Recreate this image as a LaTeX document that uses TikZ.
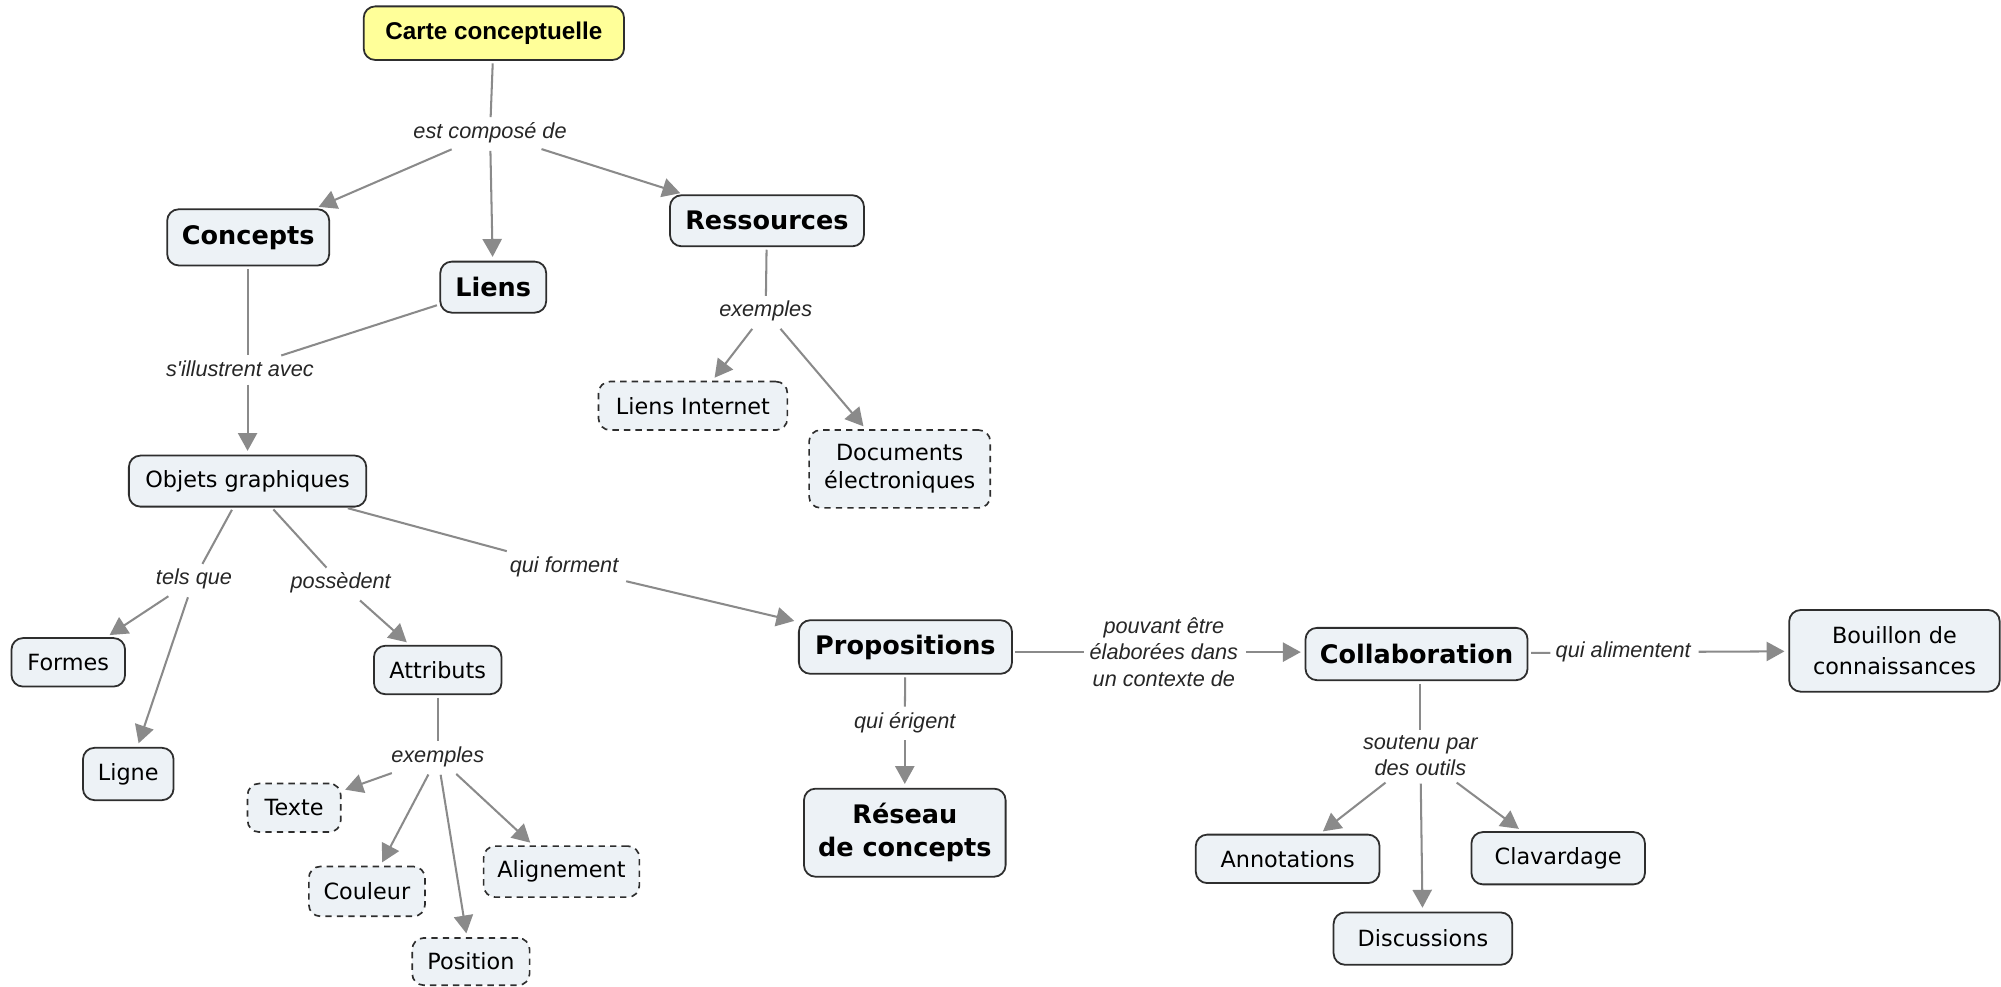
\documentclass[tikz,border=0pt]{standalone}
\usepackage{fontspec}
\setmainfont{DejaVu Sans}
\newfontfamily\labfont{Liberation Sans}
\usetikzlibrary{arrows.meta}
\definecolor{nodefill}{HTML}{EDF2F6}
\definecolor{edgecol}{HTML}{8A8A8A}
\definecolor{bordercol}{HTML}{2E2E2E}
\definecolor{yel}{HTML}{FFFF99}
\begin{document}
\begin{tikzpicture}[x=1pt,y=-1pt,
  cbox/.style={draw=bordercol, fill=nodefill, rounded corners=9pt, line width=1.4pt, align=center, inner sep=0pt, text=black},
  cbold/.style={cbox, font=\fontsize{20}{26}\selectfont\bfseries},
  creg/.style={cbox, font=\fontsize{17.5}{22}\selectfont},
  cdash/.style={creg, dash pattern=on 5pt off 4pt, line width=1.3pt},
  lnk/.style={font=\labfont\itshape\fontsize{17}{20.5}\selectfont, text=black!85, inner sep=4pt, align=center},
  ln/.style={draw=edgecol, line width=1.6pt, shorten <=2pt},
  ar/.style={ln, -{Triangle[length=14pt,width=15pt]}, shorten >=3pt},
]
\useasboundingbox (0,0) rectangle (1568,773);

% concept nodes
\node[cbox, fill=yel, font=\labfont\bfseries\fontsize{19}{23}\selectfont, minimum width=204pt, minimum height=42pt] (carte) at (387,26) {Carte conceptuelle};
\node[cbold, minimum width=127pt, minimum height=44pt] (concepts) at (194.5,186) {Concepts};
\node[cbold, minimum width=83pt, minimum height=40pt] (liens) at (386.5,225) {Liens};
\node[cbold, minimum width=152pt, minimum height=40pt] (ressources) at (601,173) {Ressources};
\node[cdash, minimum width=148pt, minimum height=38pt] (liensint) at (543,318) {Liens Internet};
\node[cdash, minimum width=142pt, minimum height=61pt] (documents) at (705,367.5) {Documents\\électroniques};
\node[creg, minimum width=186pt, minimum height=40pt] (objets) at (194,377) {Objets graphiques};
\node[creg, minimum width=89pt, minimum height=38pt] (formes) at (53.5,519) {Formes};
\node[creg, minimum width=71pt, minimum height=41pt] (ligne) at (100.5,606.5) {Ligne};
\node[creg, minimum width=100pt, minimum height=38pt] (attributs) at (343,525) {Attributs};
\node[cdash, minimum width=73pt, minimum height=38pt] (texte) at (230.5,633) {Texte};
\node[cdash, minimum width=91pt, minimum height=39pt] (couleur) at (287.5,698.5) {Couleur};
\node[cdash, minimum width=92pt, minimum height=37pt] (position) at (369,753.5) {Position};
\node[cdash, minimum width=122pt, minimum height=40pt] (alignement) at (440,683) {Alignement};
\node[cbold, minimum width=167pt, minimum height=42pt] (propositions) at (709.5,507) {Propositions};
\node[cbold, font=\fontsize{20}{26}\selectfont\bfseries, minimum width=158pt, minimum height=69pt] (reseau) at (709,652.5) {Réseau\\de concepts};
\node[cbold, minimum width=174pt, minimum height=41pt] (collab) at (1110,512.5) {Collaboration};
\node[creg, font=\fontsize{17.5}{24.5}\selectfont, minimum width=165pt, minimum height=64pt] (bouillon) at (1484.5,510) {Bouillon de\\connaissances};
\node[creg, minimum width=144pt, minimum height=38pt] (annotations) at (1009,673) {Annotations};
\node[creg, minimum width=136pt, minimum height=41pt] (clavardage) at (1221,672.5) {Clavardage};
\node[creg, minimum width=140pt, minimum height=41pt] (discussions) at (1115,735.5) {Discussions};

% linking phrases
\node[lnk] (estcomp) at (384,104) {est composé de};
\node[lnk] (sillus) at (188,289) {s'illustrent avec};
\node[lnk] (exres) at (600,244) {exemples};
\node[lnk] (telsque) at (152,454) {tels que};
\node[lnk] (possedent) at (267,457) {possèdent};
\node[lnk] (quiforment) at (442,444) {qui forment};
\node[lnk] (exattr) at (343,593) {exemples};
\node[lnk] (quierigent) at (709,566) {qui érigent};
\node[lnk] (pouvant) at (912,511) {pouvant être\\élaborées dans\\un contexte de};
\node[lnk] (quialim) at (1272,511) {qui alimentent};
\node[lnk] (soutenu) at (1113,592) {soutenu par\\des outils};

% connectors
\draw[ln] (carte) -- (estcomp);
\draw[ar] (estcomp) -- (concepts);
\draw[ar] (estcomp) -- (liens);
\draw[ar] (estcomp) -- (ressources);
\draw[ln] (concepts.south) -- (concepts.south |- sillus.north);
\draw[ln] (liens) -- (sillus);
\draw[ar] (objets.north |- sillus.south) -- (objets.north);
\draw[ln] (ressources) -- (exres);
\draw[ar] (exres) -- (liensint);
\draw[ar] (exres) -- (documents);
\draw[ln] (objets) -- (telsque);
\draw[ar] (telsque) -- (formes);
\draw[ar] (telsque) -- (ligne);
\draw[ln] (objets) -- (possedent);
\draw[ar] (possedent) -- (attributs);
\draw[ln] (objets) -- (quiforment);
\draw[ar] (quiforment) -- (propositions);
\draw[ln] (attributs) -- (exattr);
\draw[ar] (exattr) -- (texte);
\draw[ar] (exattr) -- (couleur);
\draw[ar] (exattr) -- (position);
\draw[ar] (exattr) -- (alignement);
\draw[ln] (propositions) -- (quierigent);
\draw[ar] (quierigent) -- (reseau);
\draw[ln] (propositions.east |- pouvant) -- (pouvant.west);
\draw[ar] (pouvant.east) -- (collab.west |- pouvant);
\draw[ln] (collab) -- (quialim);
\draw[ar] (quialim) -- (bouillon);
\draw[ln] (collab.south -| soutenu) -- (soutenu.north);
\draw[ar] (soutenu) -- (annotations);
\draw[ar] (soutenu) -- (discussions);
\draw[ar] (soutenu) -- (clavardage);
\end{tikzpicture}
\end{document}
